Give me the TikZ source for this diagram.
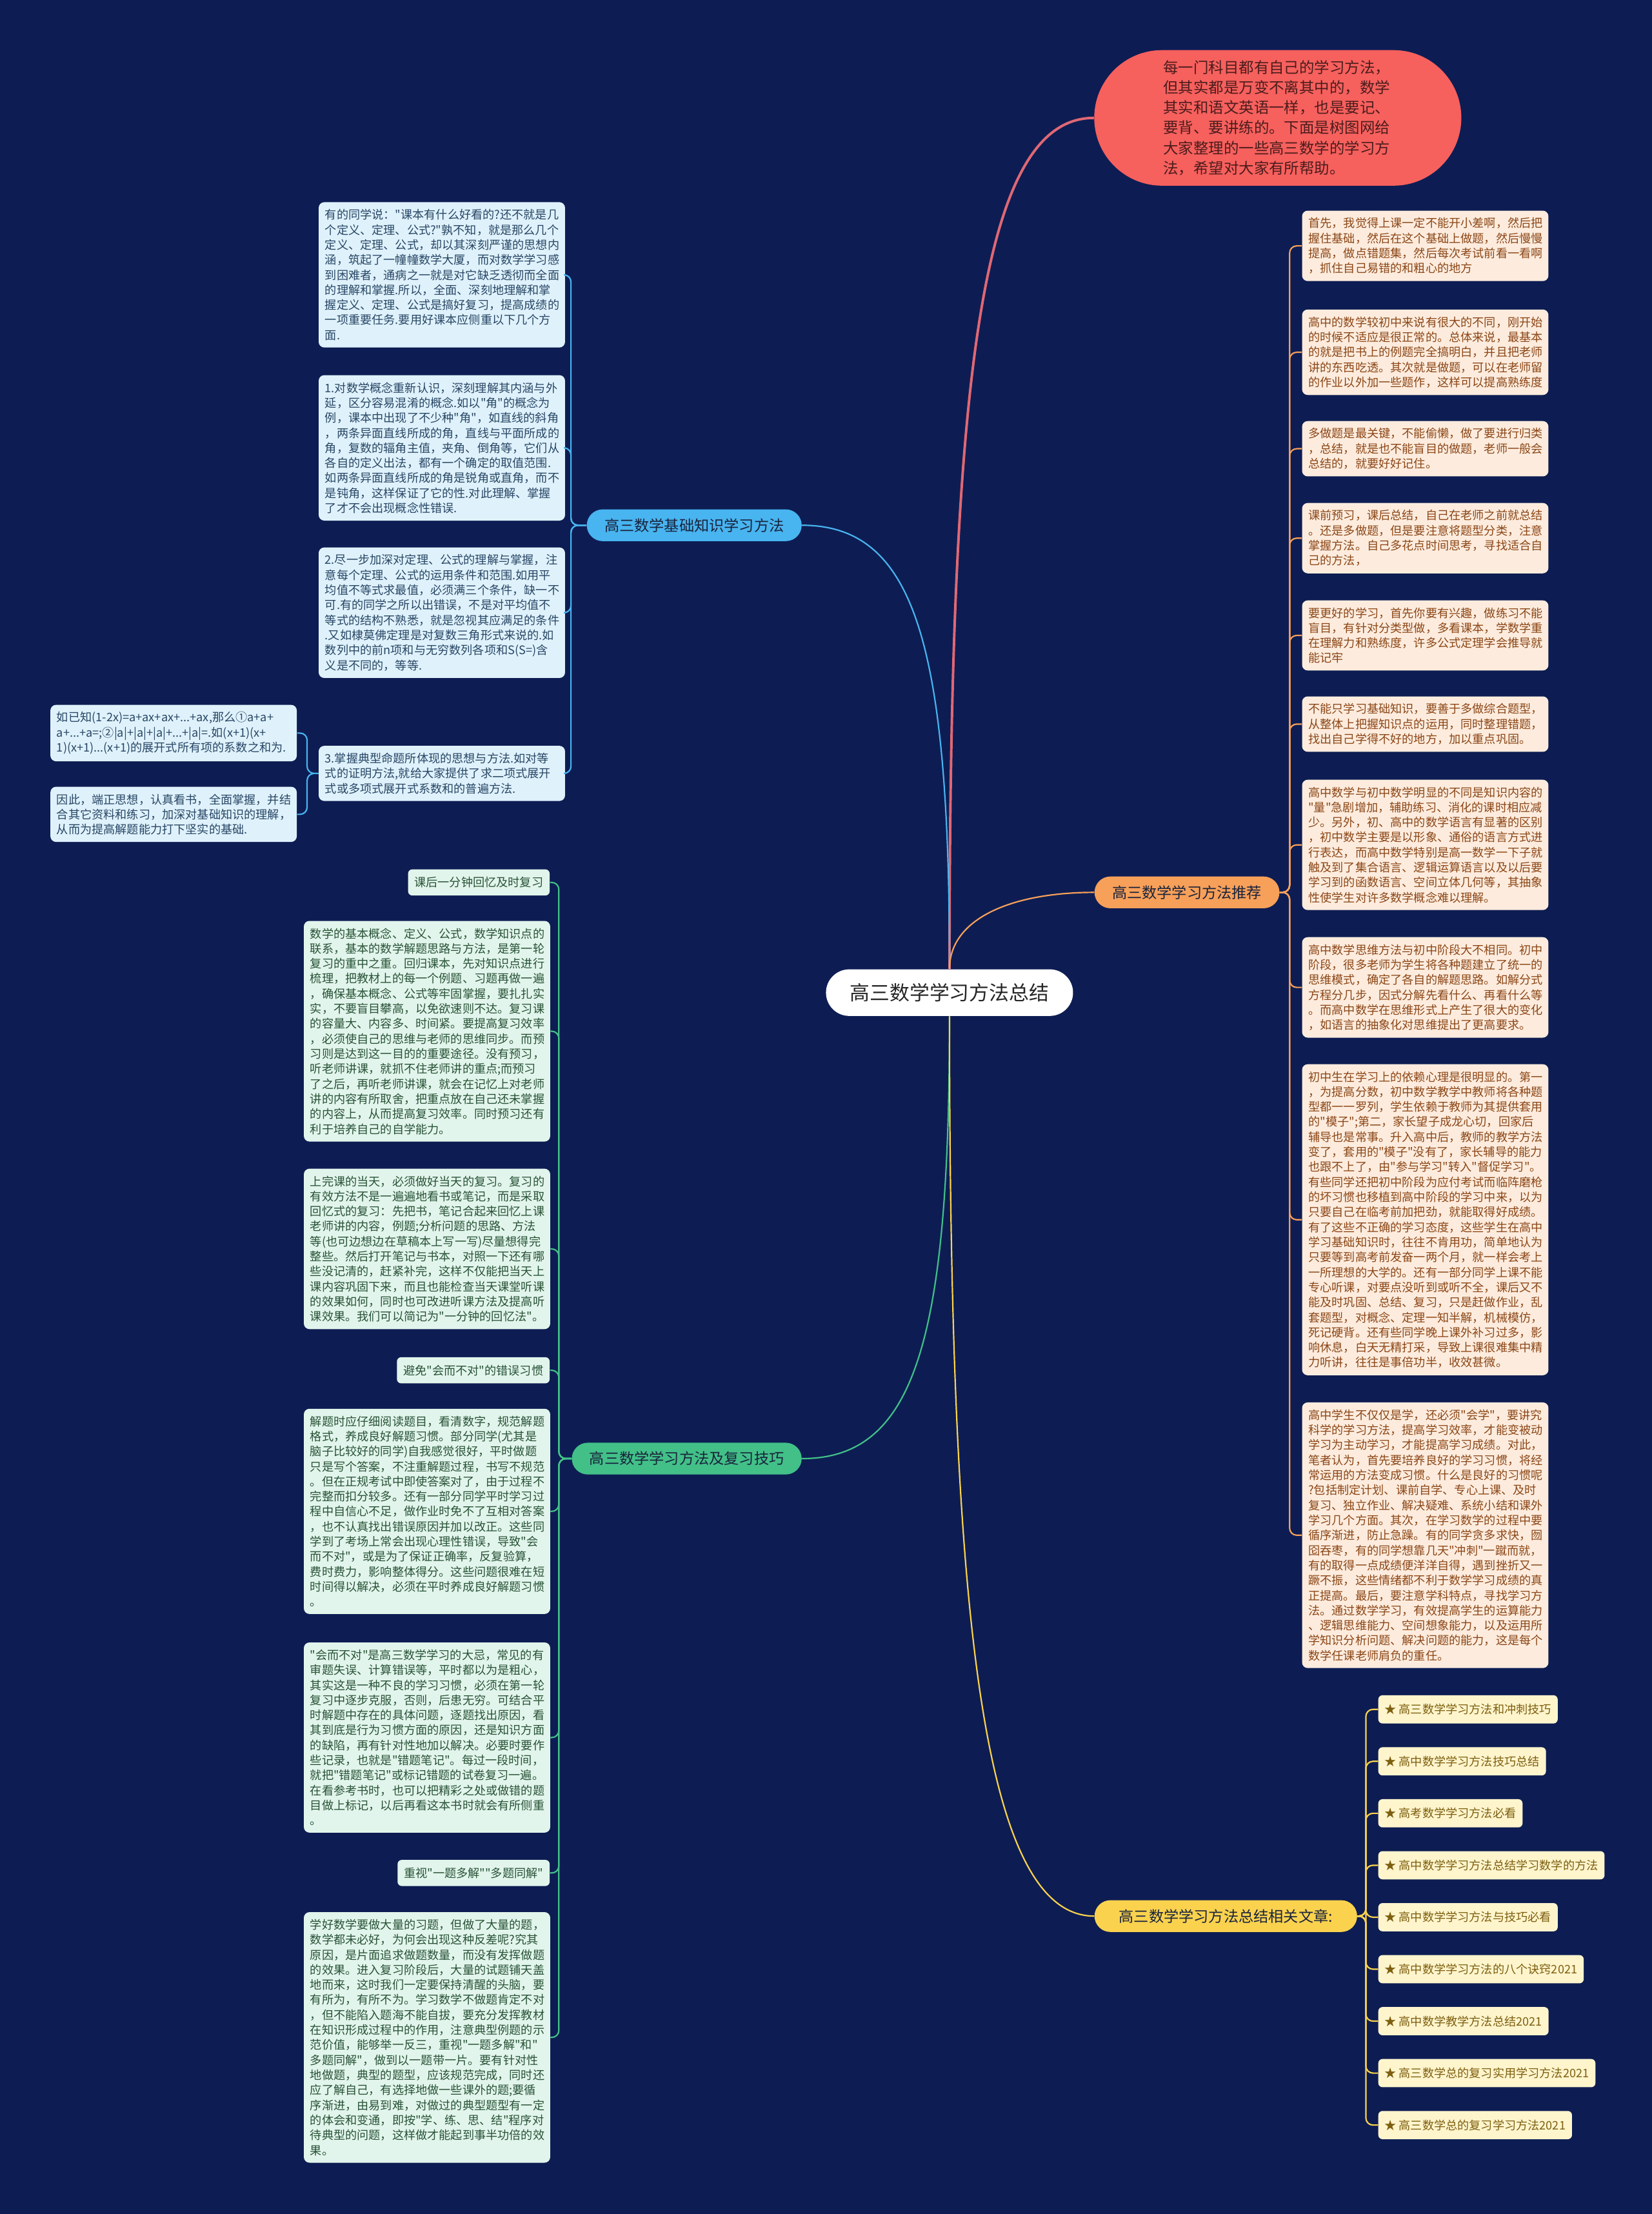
\documentclass[tikz,border=0pt]{standalone}
\usepackage{fontspec}
\setmainfont{Noto Sans CJK SC}[Ligatures=TeXOff]
\definecolor{bgnavy}{RGB}{13,29,83}
\definecolor{introred}{RGB}{246,96,93}
\definecolor{introink}{RGB}{75,28,28}
\definecolor{introline}{RGB}{224,104,116}
\definecolor{bluebr}{RGB}{72,180,240}
\definecolor{bluefill}{RGB}{223,242,252}
\definecolor{blueink}{RGB}{40,70,100}
\definecolor{orangebr}{RGB}{247,160,90}
\definecolor{orangefill}{RGB}{253,236,222}
\definecolor{orangeink}{RGB}{139,70,22}
\definecolor{greenbr}{RGB}{66,192,136}
\definecolor{greenfill}{RGB}{226,245,236}
\definecolor{greenink}{RGB}{40,82,54}
\definecolor{yellowbr}{RGB}{250,210,78}
\definecolor{yellowfill}{RGB}{255,245,205}
\definecolor{yellowink}{RGB}{125,95,15}
\definecolor{brink}{RGB}{25,35,60}
\begin{document}
\begin{tikzpicture}[x=1pt, y=-1pt,
    leafbox/.style={anchor=north west, rounded corners=4pt, inner xsep=4.5pt, inner ysep=5pt, text width=165.5pt, align=left, font=\fontsize{8.3}{10.65}\selectfont},
    bleaf/.style={leafbox, fill=bluefill, text=blueink},
    oleaf/.style={leafbox, fill=orangefill, text=orangeink},
    gleaf/.style={leafbox, fill=greenfill, text=greenink},
    gtag/.style={anchor=north east, rounded corners=3pt, inner xsep=4.5pt, inner ysep=2pt, minimum height=18.5pt, fill=greenfill, text=greenink, font=\fontsize{8.3}{10}\selectfont},
    yleaf/.style={anchor=west, rounded corners=3pt, inner xsep=4.5pt, inner ysep=2pt, minimum height=20pt, fill=yellowfill, text=yellowink, font=\fontsize{8.3}{10}\selectfont},
    brnode/.style={rounded corners=11.25pt, minimum height=22.5pt, inner xsep=12.5pt, inner ysep=2pt, text=brink, font=\fontsize{10.6}{12}\selectfont},
    rootnode/.style={fill=white, text=black!85, rounded corners=16.5pt, minimum width=175pt, minimum height=33pt, font=\fontsize{14.1}{16}\selectfont},
    intro/.style={fill=introred, text=introink, rounded corners=48pt, minimum width=260pt, minimum height=96pt, text width=162pt, align=left, font=\fontsize{10.7}{14.2}\selectfont},
    bline/.style={draw=bluebr, line width=1pt},
    oline/.style={draw=orangebr, line width=1pt},
    gline/.style={draw=greenbr, line width=1pt},
    yline/.style={draw=yellowbr, line width=1pt},
    elbow/.style={rounded corners=5pt}]
  \useasboundingbox (0,0) rectangle (1170,1568);
  \fill[bgnavy] (0,0) rectangle (1170,1568);

  \node[rootnode] (c) at (672.5,703) {高三数学学习方法总结};
  \node[intro] (red) at (905,83.5) {每一门科目都有自己的学习方法，\\但其实都是万变不离其中的，数学\\其实和语文英语一样，也是要记、\\要背、要讲练的。下面是树图网给\\大家整理的一些高三数学的学习方\\法，希望对大家有所帮助。};

  \node[brnode, fill=bluebr, anchor=east] (bb) at (568,372) {高三数学基础知识学习方法};
  \node[brnode, fill=orangebr, anchor=west] (ob) at (775,632) {高三数学学习方法推荐};
  \node[brnode, fill=greenbr, anchor=east] (gb) at (568,1033) {高三数学学习方法及复习技巧};
  \node[brnode, fill=yellowbr, anchor=west, minimum width=186pt] (yb) at (775,1357) {高三数学学习方法总结相关文章:};

  \draw[introline, line width=1.8pt] (c.north) .. controls +(0,-420) and +(-80,0) .. (red.west);
  \draw[bline] (c.north) .. controls +(0,-230) and +(80,0) .. (bb.east);
  \draw[oline] (c.north) .. controls +(0,-35) and +(-60,0) .. (ob.west);
  \draw[gline] (c.south) .. controls +(0,230) and +(80,0) .. (gb.east);
  \draw[yline] (c.south) .. controls +(0,420) and +(-80,0) .. (yb.west);

  \node[bleaf] (b1) at (225.5,143) {有的同学说："课本有什么好看的?还不就是几\\个定义、定理、公式?"孰不知，就是那么几个\\定义、定理、公式，却以其深刻严谨的思想内\\涵，筑起了一幢幢数学大厦，而对数学学习感\\到困难者，通病之一就是对它缺乏透彻而全面\\的理解和掌握.所以，全面、深刻地理解和掌\\握定义、定理、公式是搞好复习，提高成绩的\\一项重要任务.要用好课本应侧重以下几个方\\面.};
  \node[bleaf] (b2) at (225.5,265.5) {1.对数学概念重新认识，深刻理解其内涵与外\\延，区分容易混淆的概念.如以"角"的概念为\\例，课本中出现了不少种"角"，如直线的斜角\\，两条异面直线所成的角，直线与平面所成的\\角，复数的辐角主值，夹角、倒角等，它们从\\各自的定义出法，都有一个确定的取值范围.\\如两条异面直线所成的角是锐角或直角，而不\\是钝角，这样保证了它的性.对此理解、掌握\\了才不会出现概念性错误.};
  \node[bleaf] (b3) at (225.5,387.5) {2.尽一步加深对定理、公式的理解与掌握，注\\意每个定理、公式的运用条件和范围.如用平\\均值不等式求最值，必须满三个条件，缺一不\\可.有的同学之所以出错误，不是对平均值不\\等式的结构不熟悉，就是忽视其应满足的条件\\.又如棣莫佛定理是对复数三角形式来说的.如\\数列中的前n项和与无穷数列各项和S(S=)含\\义是不同的，等等.};
  \node[bleaf] (b4) at (225.5,528) {3.掌握典型命题所体现的思想与方法.如对等\\式的证明方法,就给大家提供了求二项式展开\\式或多项式展开式系数和的普遍方法.};
  \node[bleaf] (f1) at (35.5,499) {如已知(1-2x)=a+ax+ax+...+ax,那么①a+a+\\a+...+a=;②|a|+|a|+|a|+...+|a|=.如(x+1)(x+\\1)(x+1)...(x+1)的展开式所有项的系数之和为.};
  \node[bleaf] (f2) at (35.5,557) {因此，端正思想，认真看书，全面掌握，并结\\合其它资料和练习，加深对基础知识的理解，\\从而为提高解题能力打下坚实的基础.};
  \foreach \n in {b1,b2,b3,b4}
    \draw[bline, elbow] (bb.west) -- ++(-11,0) |- (\n.east);
  \foreach \n in {f1,f2}
    \draw[bline, elbow] (b4.west) -- ++(-8,0) |- (\n.east);

  \node[oleaf] (o1) at (922,149) {首先，我觉得上课一定不能开小差啊，然后把\\握住基础，然后在这个基础上做题，然后慢慢\\提高，做点错题集，然后每次考试前看一看啊\\，抓住自己易错的和粗心的地方};
  \node[oleaf] (o2) at (922,219) {高中的数学较初中来说有很大的不同，刚开始\\的时候不适应是很正常的。总体来说，最基本\\的就是把书上的例题完全搞明白，并且把老师\\讲的东西吃透。其次就是做题，可以在老师留\\的作业以外加一些题作，这样可以提高熟练度};
  \node[oleaf] (o3) at (922,298) {多做题是最关键，不能偷懒，做了要进行归类\\，总结，就是也不能盲目的做题，老师一般会\\总结的，就要好好记住。};
  \node[oleaf] (o4) at (922,356) {课前预习，课后总结，自己在老师之前就总结\\。还是多做题，但是要注意将题型分类，注意\\掌握方法。自己多花点时间思考，寻找适合自\\己的方法，};
  \node[oleaf] (o5) at (922,425) {要更好的学习，首先你要有兴趣，做练习不能\\盲目，有针对分类型做，多看课本，学数学重\\在理解力和熟练度，许多公式定理学会推导就\\能记牢};
  \node[oleaf] (o6) at (922,493) {不能只学习基础知识，要善于多做综合题型，\\从整体上把握知识点的运用，同时整理错题，\\找出自己学得不好的地方，加以重点巩固。};
  \node[oleaf] (o7) at (922,552) {高中数学与初中数学明显的不同是知识内容的\\"量"急剧增加，辅助练习、消化的课时相应减\\少。另外，初、高中的数学语言有显著的区别\\，初中数学主要是以形象、通俗的语言方式进\\行表达，而高中数学特别是高一数学一下子就\\触及到了集合语言、逻辑运算语言以及以后要\\学习到的函数语言、空间立体几何等，其抽象\\性使学生对许多数学概念难以理解。};
  \node[oleaf] (o8) at (922,663.5) {高中数学思维方法与初中阶段大不相同。初中\\阶段，很多老师为学生将各种题建立了统一的\\思维模式，确定了各自的解题思路。如解分式\\方程分几步，因式分解先看什么、再看什么等\\。而高中数学在思维形式上产生了很大的变化\\，如语言的抽象化对思维提出了更高要求。};
  \node[oleaf] (o9) at (922,753.5) {初中生在学习上的依赖心理是很明显的。第一\\，为提高分数，初中数学教学中教师将各种题\\型都一一罗列，学生依赖于教师为其提供套用\\的"模子";第二，家长望子成龙心切，回家后\\辅导也是常事。升入高中后，教师的教学方法\\变了，套用的"模子"没有了，家长辅导的能力\\也跟不上了，由"参与学习"转入"督促学习"。\\有些同学还把初中阶段为应付考试而临阵磨枪\\的坏习惯也移植到高中阶段的学习中来，以为\\只要自己在临考前加把劲，就能取得好成绩。\\有了这些不正确的学习态度，这些学生在高中\\学习基础知识时，往往不肯用功，简单地认为\\只要等到高考前发奋一两个月，就一样会考上\\一所理想的大学的。还有一部分同学上课不能\\专心听课，对要点没听到或听不全，课后又不\\能及时巩固、总结、复习，只是赶做作业，乱\\套题型，对概念、定理一知半解，机械模仿，\\死记硬背。还有些同学晚上课外补习过多，影\\响休息，白天无精打采，导致上课很难集中精\\力听讲，往往是事倍功半，收效甚微。};
  \node[oleaf] (o10) at (922,993) {高中学生不仅仅是学，还必须"会学"，要讲究\\科学的学习方法，提高学习效率，才能变被动\\学习为主动学习，才能提高学习成绩。对此，\\笔者认为，首先要培养良好的学习习惯，将经\\常运用的方法变成习惯。什么是良好的习惯呢\\?包括制定计划、课前自学、专心上课、及时\\复习、独立作业、解决疑难、系统小结和课外\\学习几个方面。其次，在学习数学的过程中要\\循序渐进，防止急躁。有的同学贪多求快，囫\\囵吞枣，有的同学想靠几天"冲刺"一蹴而就，\\有的取得一点成绩便洋洋自得，遇到挫折又一\\蹶不振，这些情绪都不利于数学学习成绩的真\\正提高。最后，要注意学科特点，寻找学习方\\法。通过数学学习，有效提高学生的运算能力\\、逻辑思维能力、空间想象能力，以及运用所\\学知识分析问题、解决问题的能力，这是每个\\数学任课老师肩负的重任。};
  \foreach \n in {o1,o2,o3,o4,o5,o6,o7,o8,o9,o10}
    \draw[oline, elbow] (ob.east) -- ++(7,0) |- (\n.west);

  \node[gtag] (g1) at (389.5,615.5) {课后一分钟回忆及时复习};
  \node[gleaf] (g2) at (215,652) {数学的基本概念、定义、公式，数学知识点的\\联系，基本的数学解题思路与方法，是第一轮\\复习的重中之重。回归课本，先对知识点进行\\梳理，把教材上的每一个例题、习题再做一遍\\，确保基本概念、公式等牢固掌握，要扎扎实\\实，不要盲目攀高，以免欲速则不达。复习课\\的容量大、内容多、时间紧。要提高复习效率\\，必须使自己的思维与老师的思维同步。而预\\习则是达到这一目的的重要途径。没有预习，\\听老师讲课，就抓不住老师讲的重点;而预习\\了之后，再听老师讲课，就会在记忆上对老师\\讲的内容有所取舍，把重点放在自己还未掌握\\的内容上，从而提高复习效率。同时预习还有\\利于培养自己的自学能力。};
  \node[gleaf] (g3) at (215,827.5) {上完课的当天，必须做好当天的复习。复习的\\有效方法不是一遍遍地看书或笔记，而是采取\\回忆式的复习：先把书，笔记合起来回忆上课\\老师讲的内容，例题;分析问题的思路、方法\\等(也可边想边在草稿本上写一写)尽量想得完\\整些。然后打开笔记与书本，对照一下还有哪\\些没记清的，赶紧补完，这样不仅能把当天上\\课内容巩固下来，而且也能检查当天课堂听课\\的效果如何，同时也可改进听课方法及提高听\\课效果。我们可以简记为"一分钟的回忆法"。};
  \node[gtag] (g4) at (389.5,961) {避免"会而不对"的错误习惯};
  \node[gleaf] (g5) at (215,997.5) {解题时应仔细阅读题目，看清数字，规范解题\\格式，养成良好解题习惯。部分同学(尤其是\\脑子比较好的同学)自我感觉很好，平时做题\\只是写个答案，不注重解题过程，书写不规范\\。但在正规考试中即使答案对了，由于过程不\\完整而扣分较多。还有一部分同学平时学习过\\程中自信心不足，做作业时免不了互相对答案\\，也不认真找出错误原因并加以改正。这些同\\学到了考场上常会出现心理性错误，导致"会\\而不对"，或是为了保证正确率，反复验算，\\费时费力，影响整体得分。这些问题很难在短\\时间得以解决，必须在平时养成良好解题习惯\\。};
  \node[gleaf] (g6) at (215,1163) {"会而不对"是高三数学学习的大忌，常见的有\\审题失误、计算错误等，平时都以为是粗心，\\其实这是一种不良的学习习惯，必须在第一轮\\复习中逐步克服，否则，后患无穷。可结合平\\时解题中存在的具体问题，逐题找出原因，看\\其到底是行为习惯方面的原因，还是知识方面\\的缺陷，再有针对性地加以解决。必要时要作\\些记录，也就是"错题笔记"。每过一段时间，\\就把"错题笔记"或标记错题的试卷复习一遍。\\在看参考书时，也可以把精彩之处或做错的题\\目做上标记，以后再看这本书时就会有所侧重\\。};
  \node[gtag] (g7) at (389.5,1317) {重视"一题多解""多题同解"};
  \node[gleaf] (g8) at (215,1354) {学好数学要做大量的习题，但做了大量的题，\\数学都未必好，为何会出现这种反差呢?究其\\原因，是片面追求做题数量，而没有发挥做题\\的效果。进入复习阶段后，大量的试题铺天盖\\地而来，这时我们一定要保持清醒的头脑，要\\有所为，有所不为。学习数学不做题肯定不对\\，但不能陷入题海不能自拔，要充分发挥教材\\在知识形成过程中的作用，注意典型例题的示\\范价值，能够举一反三，重视"一题多解"和"\\多题同解"，做到以一题带一片。要有针对性\\地做题，典型的题型，应该规范完成，同时还\\应了解自己，有选择地做一些课外的题;要循\\序渐进，由易到难，对做过的典型题型有一定\\的体会和变通，即按"学、练、思、结"程序对\\待典型的问题，这样做才能起到事半功倍的效\\果。};
  \foreach \n in {g1,g2,g3,g4,g5,g6,g7,g8}
    \draw[gline, elbow] (gb.west) -- ++(-9,0) |- (\n.east);

  \foreach \t [count=\i] in {高三数学学习方法和冲刺技巧, 高中数学学习方法技巧总结, 高考数学学习方法必看, 高中数学学习方法总结学习数学的方法, 高中数学学习方法与技巧必看, 高中数学学习方法的八个诀窍2021, 高中数学教学方法总结2021, 高三数学总的复习实用学习方法2021, 高三数学总的复习学习方法2021}
    \node[yleaf] (y\i) at ({976},{1173.8+36.8*\i}) {★ \t};
  \foreach \i in {1,...,9}
    \draw[yline, elbow] (yb.east) -- ++(6,0) |- (y\i.west);
\end{tikzpicture}
\end{document}
